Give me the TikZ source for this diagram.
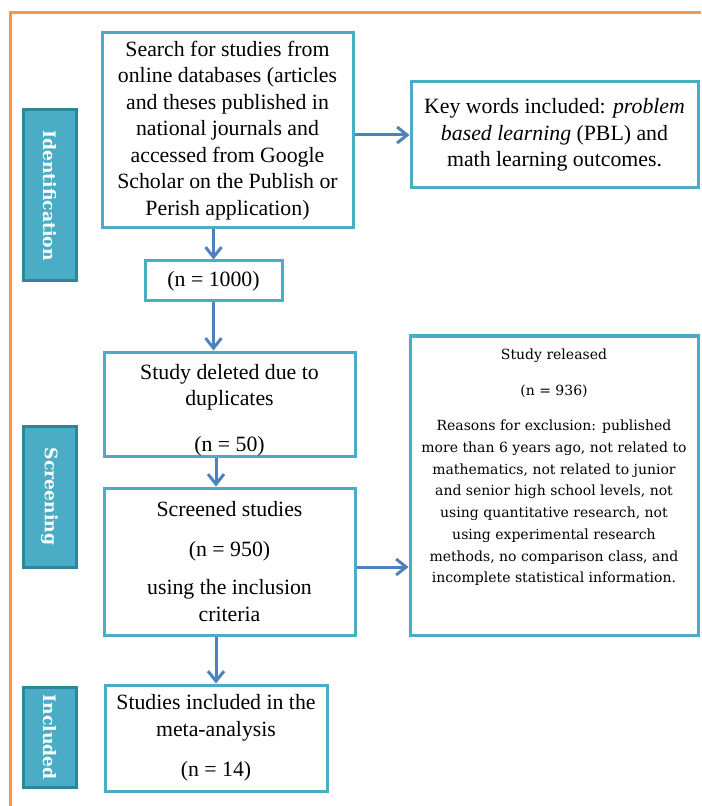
\documentclass[tikz,border=0pt]{standalone}
\usepackage{fontspec}
\setmainfont{Liberation Serif}
\newfontfamily\notefont{DejaVu Serif}
\usetikzlibrary{arrows.meta}

\definecolor{boxline}{RGB}{75,172,198}
\definecolor{flowblue}{RGB}{79,129,189}
\definecolor{barfill}{RGB}{75,172,198}
\definecolor{barline}{RGB}{49,133,155}
\definecolor{framecol}{RGB}{247,150,70}

\tikzset{
  stagebox/.style={draw=boxline, line width=1.5pt, fill=white, inner sep=0pt, align=center,
    font=\fontsize{10.9}{13.25}\selectfont},
  notetext/.style={inner sep=0pt, align=center, font=\notefont\fontsize{7}{10.85}\selectfont},
  phasebar/.style={draw=barline, fill=barfill, line width=1.5pt, inner sep=0pt, text=white,
    rotate=-90, minimum height=26.5pt, font=\notefont\bfseries\fontsize{8.6}{10}\selectfont},
  flow/.style={draw=flowblue, line width=1.5pt, -{Straight Barb[length=5pt,width=8pt]}},
}

\begin{document}
\begin{tikzpicture}[x=0.5pt,y=-0.5pt]
  \useasboundingbox (0,0) rectangle (701,806);
  % outer frame (only top and left edges show)
  \draw[framecol, line width=1.5pt] (701,13) -- (10,13) -- (10,806);

  % phase bars
  \node[phasebar, minimum width=85.5pt] (identbar) at (49.5,195.5) {Identification};
  \node[phasebar, minimum width=70.5pt] (screenbar) at (49.5,496.5) {Screening};
  \node[phasebar, minimum width=50pt] (inclbar) at (49.5,737) {Included};

  % flow boxes
  \node[stagebox, minimum width=125.5pt, minimum height=97.5pt] (search) at (227.5,130.5)
    {Search for studies from\\ online databases (articles\\ and theses published in\\
     national journals and\\ accessed from Google\\ Scholar on the Publish or\\ Perish application)};
  \node[stagebox, minimum width=143.5pt, minimum height=53pt] (keywords) at (554.5,135)
    {Key words included: \textit{problem}\\ \textit{based learning} (PBL) and\\ math learning outcomes.};
  \node[stagebox, minimum width=68.5pt, minimum height=20pt] (total) at (213.5,281) {(n = 1000)};
  \node[stagebox, minimum width=125.5pt, minimum height=52pt] (deleted) at (229.5,404) {};
  \begin{scope}% last line runs under the lower edge
    \clip ([shift={(0.75pt,0.75pt)}]deleted.south west) rectangle ([shift={(-0.75pt,-0.75pt)}]deleted.north east);
    \node[stagebox, draw=none, fill=none] (deltext) at (229.5,410)
      {Study deleted due to\\ duplicates\\[9.5pt] (n = 50)};
  \end{scope}
  \node[stagebox, minimum width=125.5pt, minimum height=73.5pt] (screened) at (229.5,561.5)
    {Screened studies\\[6.5pt] (n = 950)\\[6pt] using the inclusion\\ criteria};
  \node[stagebox, minimum width=144pt, minimum height=149.5pt] (released) at (554,485.5) {};
  \node[notetext, anchor=north] (reasons) at (554,348)
    {Study released\\[7.6pt] (n = 936)\\[6.6pt] Reasons for exclusion: published\\
     more than 6 years ago, not related to\\ mathematics, not related to junior\\
     and senior high school levels, not\\ using quantitative research, not\\
     using experimental research\\ methods, no comparison class, and\\
     incomplete statistical information.};
  \node[stagebox, minimum width=111pt, minimum height=53pt] (included) at (216,738)
    {Studies included in the\\ meta-analysis\\[7pt] (n = 14)};

  % connectors
  \draw[flow] (search.south -| total.north) -- (total.north);
  \draw[flow] (total.south) -- (total.south |- deleted.north);
  \draw[flow] (deleted.south -| included.north) -- (screened.north -| included.north);
  \draw[flow] (screened.south -| included.north) -- (included.north);
  \draw[flow] (search.east |- keywords.west) -- (keywords.west);
  \draw[flow] ([yshift=-2.75pt]screened.east) -- ([yshift=-2.75pt]screened.east -| released.west);
\end{tikzpicture}
\end{document}
